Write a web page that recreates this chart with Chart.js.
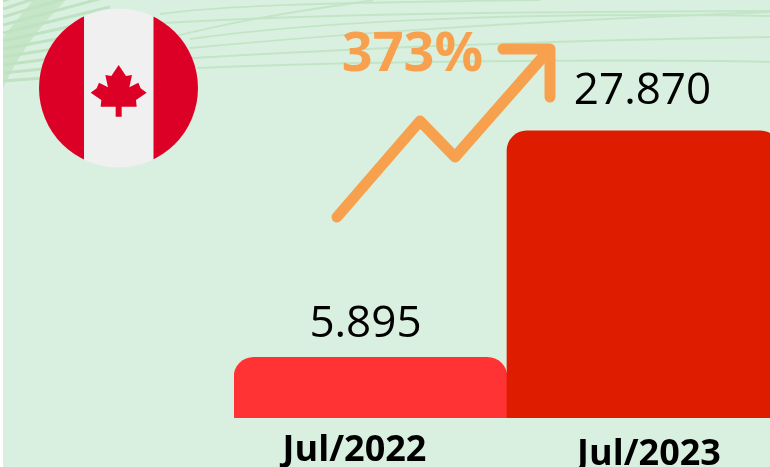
<!DOCTYPE html>
<html lang="en">
  <head>
    <meta charset="UTF-8" />
    <title>Canada Jul/2022 vs Jul/2023</title>
    <style>
      html,
      body {
        margin: 0;
        padding: 0;
        width: 770px;
        height: 467px;
        overflow: hidden;
        background-color: #ffffff;
      }
      canvas {
        display: block;
      }
    </style>
  </head>
  <body>
    <canvas id="myChart" width="800" height="467"></canvas>
    <script src="https://cdnjs.cloudflare.com/ajax/libs/Chart.js/4.4.1/chart.umd.min.js"></script>
    <script>
      const categories = ["Jul/2022", "Jul/2023"];
      const values = [5895, 27870];
      const valueLabels = ["5.895", "27.870"];
      const barColors = ["#FF3333", "#DD1C00"];
      const growthLabel = "373%";

      const GREEN_BG = "#D9F0E0";
      const GREEN_LINE = "#C3E5C6";
      const ORANGE = "#F7A14E";
      const FLAG_RED = "#DC0026";

      // labels in the original are not quite centred on their bars
      const valueShift = [-5, -1];
      const valueGap = [20, 27];
      const labelShift = [-16, 5.5];
      const labelBase = [461, 465];

      // thin background swooshes, behind everything
      const swooshes = [
        [[197, 68], [357, 61], [630, 59], [770, 62]],
        [[190, 58], [340, 50], [480, 42], [770, 37]],
        [[190, 48], [320, 36], [480, 23], [770, 12]],
        [[190, 39], [290, 25], [480, 11], [770, 16]],
        [[160, 40], [260, 14], [340, 6], [373, 0]],
        [[163, 23], [323, 14], [480, 12], [770, 11]],
        [[160, 14], [220, 6], [300, 3], [540, 0]],
      ];

      const leafHalf = [
        [356, 195], [378, 228], [396, 225], [388, 262], [415, 248],
        [422, 265], [440, 278], [408, 300], [410, 320], [365, 320], [365, 350],
      ];

      function drawBackground(c) {
        c.fillStyle = GREEN_BG;
        c.fillRect(3, 0, 797, 467);

        // wider band running into the top left corner
        c.fillStyle = "#C7E6C7";
        c.beginPath();
        c.moveTo(33, 0);
        c.lineTo(66, 0);
        c.quadraticCurveTo(25, 40, 3, 88);
        c.lineTo(3, 37);
        c.closePath();
        c.fill();

        c.strokeStyle = GREEN_LINE;
        c.lineWidth = 2;
        swooshes.forEach((s) => {
          c.beginPath();
          c.moveTo(s[0][0], s[0][1]);
          c.bezierCurveTo(s[1][0], s[1][1], s[2][0], s[2][1], s[3][0], s[3][1]);
          c.stroke();
        });

        // left fan
        c.strokeStyle = "#BFE3C2";
        c.lineWidth = 3;
        for (let i = 0; i < 11; i++) {
          const y = 81 - i * 8;
          c.beginPath();
          c.moveTo(3, y);
          c.lineTo(110, y - 8 - i * 3);
          c.stroke();
        }
      }

      function drawFlag(c) {
        const cx = 118.5;
        const cy = 88;
        const r = 79.5;
        c.save();
        c.beginPath();
        c.arc(cx, cy, r, 0, Math.PI * 2);
        c.clip();
        c.fillStyle = "#F0F0F0";
        c.fillRect(cx - r, cy - r, r * 2, r * 2);
        c.fillStyle = FLAG_RED;
        c.fillRect(cx - r, cy - r, 84 - (cx - r), r * 2);
        c.fillRect(153.5, cy - r, cx + r - 153.5, r * 2);
        c.restore();

        c.fillStyle = FLAG_RED;
        c.beginPath();
        leafHalf.forEach((p, i) => {
          if (i === 0) c.moveTo(p[0] / 3, p[1] / 3);
          else c.lineTo(p[0] / 3, p[1] / 3);
        });
        for (let i = leafHalf.length - 1; i > 0; i--) {
          c.lineTo((712 - leafHalf[i][0]) / 3, leafHalf[i][1] / 3);
        }
        c.closePath();
        c.fill();
      }

      function drawArrow(c) {
        c.strokeStyle = ORANGE;
        c.lineWidth = 11;
        c.lineCap = "round";
        c.lineJoin = "round";
        c.beginPath();
        c.moveTo(337, 217);
        c.lineTo(420, 121);
        c.lineTo(455, 157);
        c.lineTo(549, 50);
        c.stroke();
        c.beginPath();
        c.moveTo(503, 49);
        c.lineTo(550, 49);
        c.lineTo(550, 97);
        c.stroke();
      }

      const annotations = {
        id: "annotations",
        beforeDraw(chart) {
          drawBackground(chart.ctx);
        },
        afterDraw(chart) {
          const c = chart.ctx;
          const bars = chart.getDatasetMeta(0).data;
          c.save();
          drawFlag(c);
          drawArrow(c);

          c.textAlign = "center";
          c.textBaseline = "alphabetic";
          c.fillStyle = "#000000";
          c.font = '44px "Open Sans"';
          bars.forEach((bar, i) => {
            c.fillText(valueLabels[i], bar.x + valueShift[i], bar.y - valueGap[i]);
          });
          c.font = 'bold 36px "Open Sans"';
          bars.forEach((bar, i) => {
            c.fillText(categories[i], bar.x + labelShift[i], labelBase[i]);
          });

          c.fillStyle = ORANGE;
          c.font = 'bold 54px "Open Sans"';
          c.fillText(growthLabel, 412.5, 71);
          c.restore();
        },
      };

      const data = {
        labels: categories,
        datasets: [
          {
            data: values,
            backgroundColor: barColors,
            barPercentage: 1,
            categoryPercentage: 1,
            borderSkipped: "bottom",
            borderRadius: { topLeft: 20, topRight: 20 },
          },
        ],
      };

      const config = {
        type: "bar",
        data: data,
        plugins: [annotations],
        options: {
          responsive: false,
          animation: false,
          layout: { padding: { left: 234, right: 20, top: 0, bottom: 49 } },
          plugins: {
            legend: { display: false },
            title: { display: false },
            tooltip: { enabled: false },
          },
          scales: {
            x: { display: false },
            y: { display: false, min: 0, max: 40580 },
          },
        },
      };

      const ctx = document.getElementById("myChart").getContext("2d");
      const myChart = new Chart(ctx, config);
    </script>
  </body>
</html>
